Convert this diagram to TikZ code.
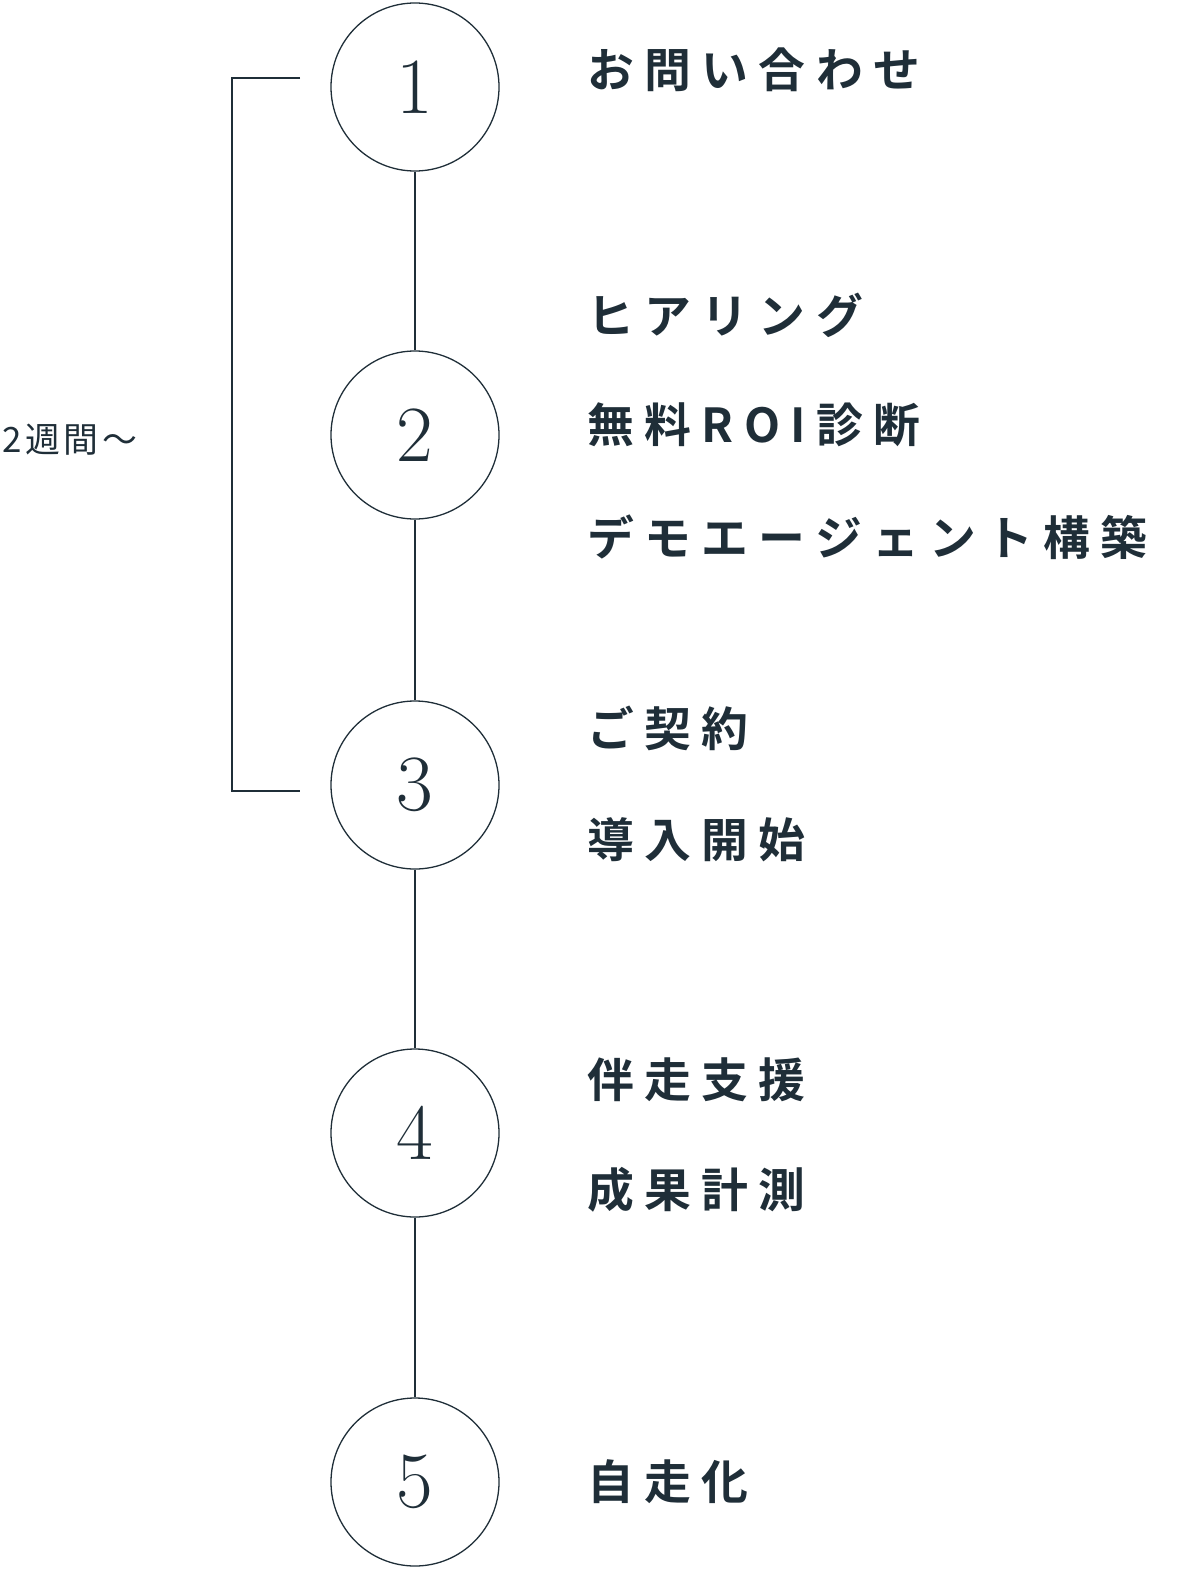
\documentclass[tikz,border=0pt]{standalone}
\usepackage{fontspec}
\newfontfamily\cjk[LetterSpace=22]{Noto Sans CJK JP Bold}
\newfontfamily\cjklight[LetterSpace=10]{Noto Sans CJK JP}
\definecolor{ink}{HTML}{1F2E38}
\begin{document}
\begin{tikzpicture}[x=1bp, y=-1bp, ink, line width=1.3bp,
  stepnode/.style = {draw, circle, minimum size=168bp, inner sep=0pt, font=\fontsize{80}{80}\selectfont},
  stepnote/.style = {anchor=west, inner sep=0pt, font=\cjk\fontsize{47}{47}\selectfont}]
  \node[stepnode] (1) at (415,87) {1};
  \node[stepnode] (2) at (415,435) {2};
  \node[stepnode] (3) at (415,785) {3};
  \node[stepnode] (4) at (415,1133) {4};
  \node[stepnode] (5) at (415,1482) {5};
  \draw (1) -- (2);
  \draw (2) -- (3);
  \draw (3) -- (4);
  \draw (4) -- (5);
  \coordinate (b1) at (300,78);
  \coordinate (b2) at (300,791);
  \draw (b1) -- (232,78) -- (232,791) -- (b2);
  \node[anchor=west, inner sep=0pt, font=\cjklight\fontsize{35}{35}\selectfont] (span) at (2,440) {2週間〜};
  \node[stepnote] (t1) at (587,70) {お問い合わせ};
  \node[stepnote] (t2) at (587,315) {ヒアリング};
  \node[stepnote] (t3) at (587,425) {無料ROI診断};
  \node[stepnote] (t4) at (587,537) {デモエージェント構築};
  \node[stepnote] (t5) at (587,728) {ご契約};
  \node[stepnote] (t6) at (587,840) {導入開始};
  \node[stepnote] (t7) at (587,1080) {伴走支援};
  \node[stepnote] (t8) at (587,1190) {成果計測};
  \node[stepnote] (t9) at (587,1482) {自走化};
  \pgfresetboundingbox
  \useasboundingbox (0,0) rectangle (1200,1591);
\end{tikzpicture}
\end{document}
